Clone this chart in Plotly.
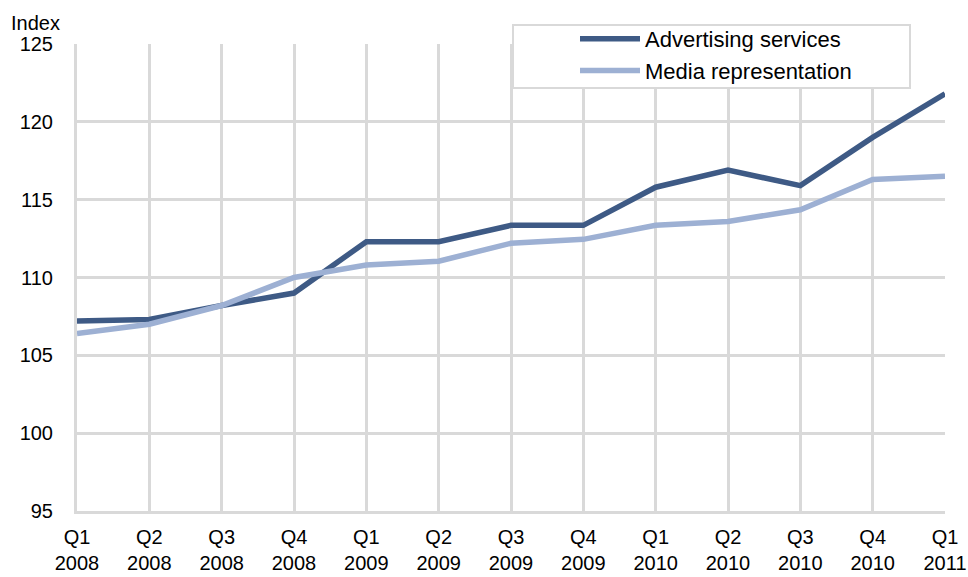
import plotly.graph_objects as go

quarters = ["Q1<br>2008", "Q2<br>2008", "Q3<br>2008", "Q4<br>2008",
            "Q1<br>2009", "Q2<br>2009", "Q3<br>2009", "Q4<br>2009",
            "Q1<br>2010", "Q2<br>2010", "Q3<br>2010", "Q4<br>2010",
            "Q1<br>2011"]
advertising = [107.2, 107.3, 108.2, 109.0, 112.3, 112.3, 113.35, 113.35,
               115.8, 116.9, 115.9, 119.0, 121.8]
media = [106.4, 107.0, 108.2, 110.0, 110.8, 111.05, 112.2, 112.45,
         113.35, 113.6, 114.35, 116.3, 116.5]
y_ticks = [95, 100, 105, 110, 115, 120, 125]

grid = "#D9D9D9"
font = "Liberation Sans, Arial, sans-serif"

W, H = 968, 577
ML, MR, MT, MB = 77, 23, 44, 66
PW, PH = W - ML - MR, H - MT - MB


def px_x(px):
    return (px - ML) / PW


def px_y(py):
    return 1 - (py - MT) / PH


fig = go.Figure()
fig.add_trace(go.Scatter(x=quarters, y=advertising, mode="lines",
                         name="Advertising services",
                         line=dict(color="#3E5A85", width=5.5)))
fig.add_trace(go.Scatter(x=quarters, y=media, mode="lines",
                         name="Media representation",
                         line=dict(color="#9DB0D3", width=5.5)))

fig.update_layout(
    width=W, height=H,
    margin=dict(l=ML, r=MR, t=MT, b=MB),
    plot_bgcolor="white", paper_bgcolor="white",
    font=dict(family=font, size=20, color="#000000"),
    showlegend=True,
    legend=dict(x=px_x(575), y=px_y(18), xanchor="left", yanchor="top",
                bgcolor="rgba(0,0,0,0)", borderwidth=0,
                font=dict(size=22), tracegroupgap=0,
                itemwidth=60),
    xaxis=dict(type="category", range=[0, 12], showgrid=True,
               gridcolor=grid, gridwidth=3, showline=True,
               linecolor=grid, linewidth=3, ticks="",
               ticklabelstandoff=6, automargin=False,
               tickfont=dict(size=20), zeroline=False, fixedrange=True),
    yaxis=dict(range=[95, 125], tickvals=y_ticks, showgrid=True,
               gridcolor=grid, gridwidth=3, showline=True,
               linecolor=grid, linewidth=3, ticks="",
               ticklabelstandoff=17, tickfont=dict(size=20),
               automargin=False,
               zeroline=False, fixedrange=True),
    shapes=[dict(type="rect", xref="paper", yref="paper",
                 x0=px_x(513), x1=px_x(910), y0=px_y(88), y1=px_y(25),
                 fillcolor="white", line=dict(color=grid, width=2),
                 layer="above")],
    annotations=[dict(text="Index", xref="paper", yref="paper",
                      x=px_x(62), y=1.0, xanchor="right", yanchor="bottom",
                      yshift=8, showarrow=False, font=dict(size=20))],
)

fig.write_html("out.html")
